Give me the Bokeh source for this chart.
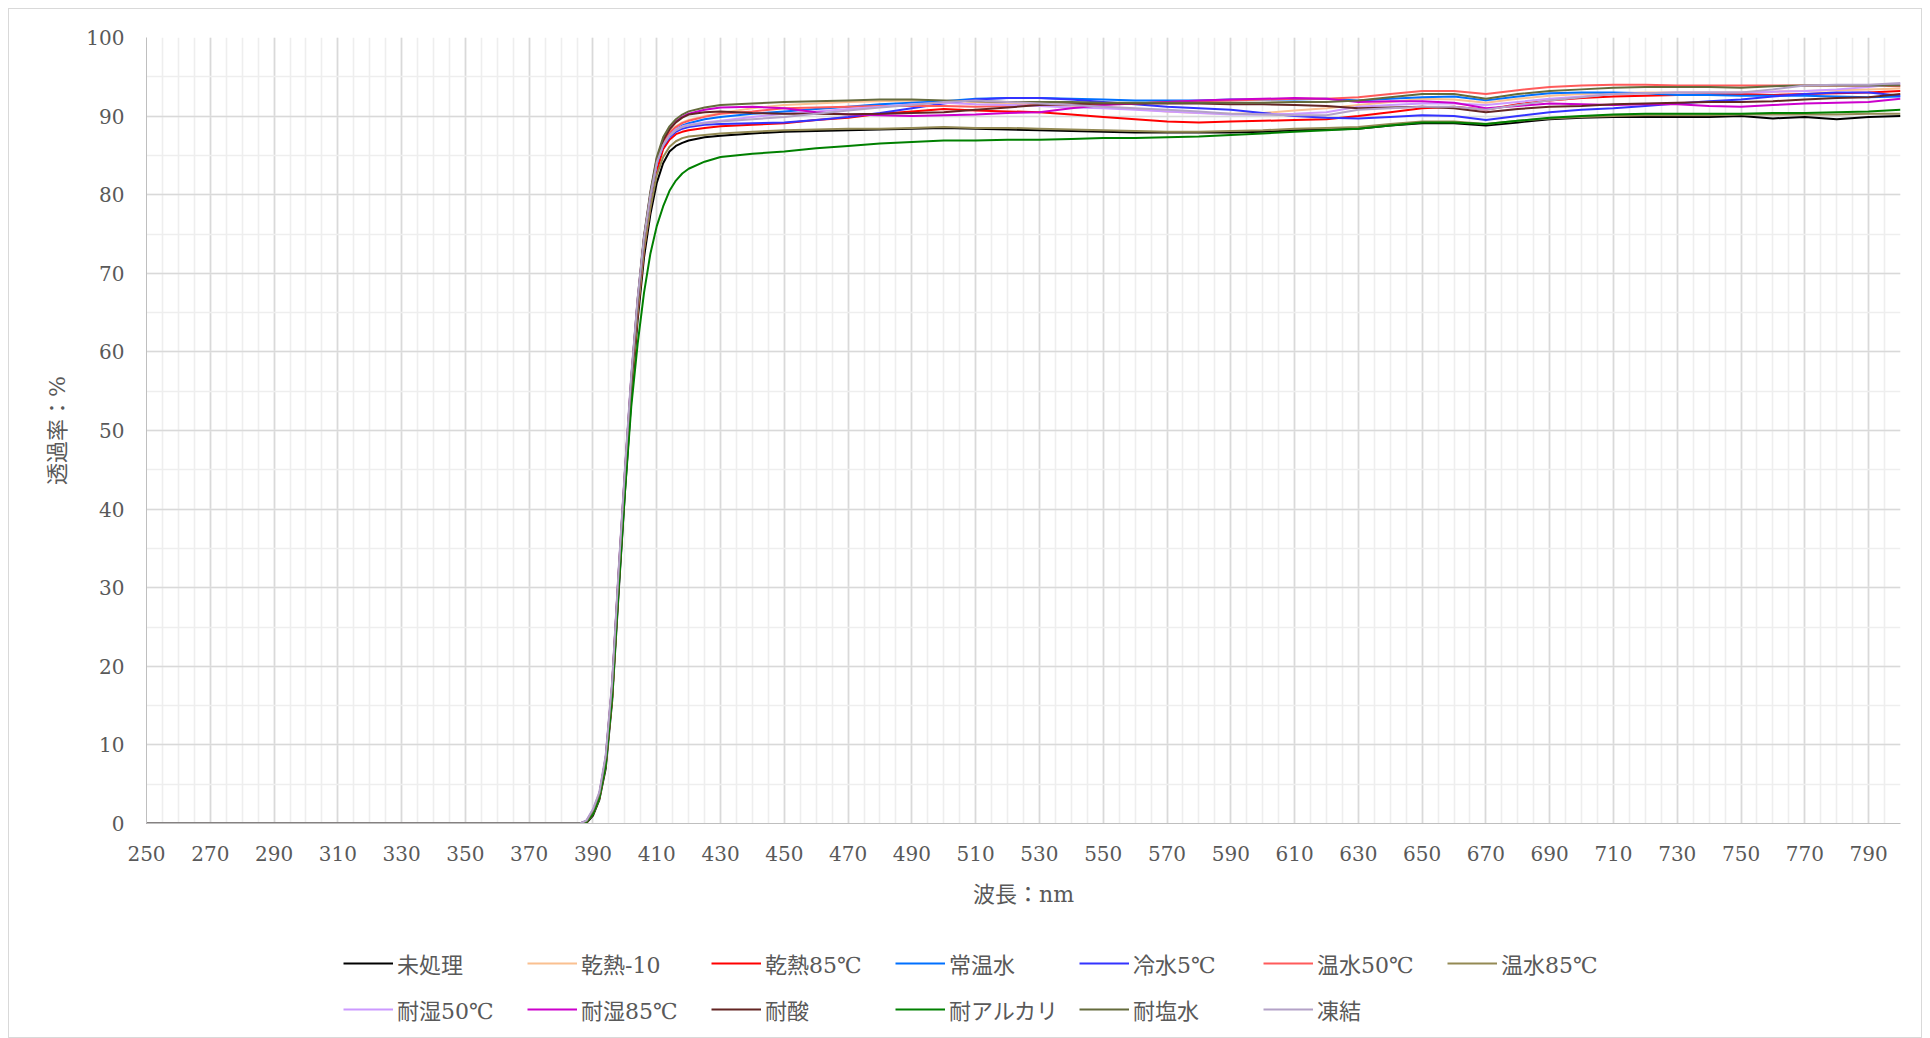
from bokeh.plotting import figure
from bokeh.models import Range1d, FixedTicker, Legend, LegendItem
from bokeh.layouts import column
from bokeh.embed import file_html
from bokeh.resources import INLINE

# ---------------- data ----------------
wavelength = [250, 380, 386, 388, 390, 392, 394, 396, 398, 400, 402, 404, 406, 408, 410,
              412, 414, 416, 418, 420, 425, 430,
              440, 450, 460, 470, 480, 490, 500, 510, 520, 530, 540, 550, 560, 570, 580, 590, 600,
              610, 620, 630, 640, 650, 660, 670, 680, 690, 700, 710, 720, 730, 740, 750, 760, 770, 780, 790, 800]

series_names = ["未処理", "乾熱-10", "乾熱85℃", "常温水", "冷水5℃", "温水50℃", "温水85℃",
                "耐湿50℃", "耐湿85℃", "耐酸", "耐アルカリ", "耐塩水", "凍結"]

untreated = [0, 0, 0, 0.1, 1.0, 3.0, 7.0, 15.5, 29, 42, 54, 64, 72, 77.5, 81.5,
             84.0, 85.5, 86.2, 86.6, 86.9, 87.3, 87.5,
             87.8, 88.0, 88.1, 88.2, 88.3, 88.4, 88.5, 88.4, 88.3, 88.2, 88.1, 88.0, 87.9, 87.9, 87.9, 87.9, 88.0,
             88.2, 88.3, 88.4, 88.8, 89.1, 89.1, 88.8, 89.2, 89.6, 89.8, 89.9, 89.9, 89.9, 89.9, 90.0, 89.7, 89.9, 89.6, 89.9, 90.0]
dry_heat_m10 = [0, 0, 0, 0.3, 1.6, 3.7, 8.3, 17.5, 31.5, 44.5, 56.5, 66.5, 74.5, 80, 84.3,
                86.6, 87.9, 88.7, 89.2, 89.5, 90.0, 90.4,
                91.0, 91.4, 91.6, 91.8, 91.9, 92.0, 91.9, 91.8, 91.6, 91.4, 91.3, 91.2, 90.9, 90.6, 90.4, 90.3, 90.4,
                90.7, 91.0, 91.4, 91.8, 92.2, 92.1, 91.7, 92.2, 92.6, 92.8, 92.9, 93.0, 93.0, 93.0, 93.0, 93.1, 93.2, 93.3, 93.4, 93.5]
dry_heat_85 = [0, 0, 0, 0.2, 1.2, 3.2, 7.5, 16, 30, 43, 55, 65, 73, 78.5, 83.0,
               85.8, 87.0, 87.7, 88.0, 88.2, 88.5, 88.7,
               88.9, 89.1, 89.5, 89.8, 90.3, 90.6, 90.9, 90.7, 90.6, 90.5, 90.2, 89.9, 89.6, 89.3, 89.2, 89.3, 89.4,
               89.5, 89.6, 90.0, 90.5, 91.0, 91.2, 90.8, 91.5, 92.0, 92.3, 92.5, 92.6, 92.7, 92.8, 92.8, 92.7, 92.8, 92.9, 93.0, 93.2]
room_water = [0, 0, 0, 0.3, 1.5, 3.5, 8, 17, 31, 44, 56, 66, 74, 79.5, 84,
              86.4, 87.6, 88.3, 88.8, 89.1, 89.6, 89.9,
              90.3, 90.6, 90.9, 91.2, 91.5, 91.7, 91.9, 92.2, 92.3, 92.3, 92.2, 92.1, 92.0, 92.0, 92.0, 92.1, 92.1,
              92.1, 92.2, 92.0, 92.2, 92.4, 92.5, 92.0, 92.5, 92.9, 93.0, 93.0, 92.9, 92.7, 92.7, 92.6, 92.6, 92.6, 92.5, 92.4, 92.5]
cold_water_5 = [0, 0, 0, 0.3, 1.5, 3.5, 8, 17, 31, 44, 56, 66, 74, 79.5, 84,
                86.2, 87.3, 88.0, 88.4, 88.6, 88.9, 89.0,
                89.1, 89.2, 89.5, 89.9, 90.4, 91.0, 91.6, 92.1, 92.3, 92.3, 92.1, 91.8, 91.5, 91.2, 91.0, 90.8, 90.4,
                90.0, 89.8, 89.7, 89.9, 90.1, 90.0, 89.5, 90.0, 90.5, 90.8, 91.0, 91.3, 91.6, 91.9, 92.1, 92.5, 92.8, 93.0, 93.0, 92.6]
warm_water_50 = [0, 0, 0, 0.3, 1.6, 3.6, 8.2, 17.3, 31.3, 44.3, 56.3, 66.3, 74.3, 79.8, 84.2,
                 86.6, 87.9, 88.6, 89.1, 89.4, 89.9, 90.3,
                 90.6, 91.0, 91.1, 91.2, 91.3, 91.3, 91.3, 91.2, 91.3, 91.4, 91.4, 91.5, 91.6, 91.8, 91.9, 92.0, 92.1,
                 92.2, 92.2, 92.4, 92.8, 93.2, 93.2, 92.8, 93.3, 93.7, 93.9, 94.0, 94.0, 93.9, 93.9, 93.9, 93.9, 93.9, 93.9, 93.9, 93.8]
warm_water_85 = [0, 0, 0, 0.2, 1.2, 3.2, 7.4, 16, 30, 43, 55, 65, 73, 78.3, 82.5,
                 84.8, 86.1, 86.8, 87.2, 87.4, 87.6, 87.8,
                 88.0, 88.2, 88.3, 88.4, 88.4, 88.5, 88.6, 88.5, 88.5, 88.4, 88.3, 88.2, 88.1, 88.0, 88.0, 88.1, 88.2,
                 88.4, 88.5, 88.6, 89.0, 89.3, 89.3, 89.0, 89.4, 89.7, 89.9, 90.0, 90.1, 90.1, 90.1, 90.2, 90.2, 90.2, 90.2, 90.3, 90.3]
humidity_50 = [0, 0, 0, 0.4, 1.8, 3.9, 8.6, 17.8, 31.8, 44.8, 56.8, 66.6, 74.4, 79.8, 84.1,
               86.3, 87.5, 88.3, 88.7, 88.9, 89.2, 89.4,
               89.9, 90.3, 90.6, 90.9, 91.2, 91.5, 91.7, 91.5, 91.4, 91.3, 91.1, 91.0, 90.8, 90.6, 90.4, 90.2, 90.2,
               90.3, 90.5, 91.2, 91.4, 91.6, 91.6, 91.4, 91.8, 92.2, 92.5, 92.8, 92.9, 93.0, 93.0, 93.0, 93.1, 93.2, 93.4, 93.7, 94.1]
humidity_85 = [0, 0, 0, 0.3, 1.6, 3.7, 8.3, 17.5, 31.5, 44.5, 56.5, 66.5, 74.6, 80.2, 84.6,
               87.0, 88.4, 89.3, 89.9, 90.3, 90.8, 91.1,
               91.2, 91.0, 90.5, 90.2, 90.1, 90.0, 90.1, 90.2, 90.4, 90.5, 91.0, 91.4, 91.6, 91.8, 92.0, 92.1, 92.2,
               92.3, 92.2, 91.8, 91.9, 91.9, 91.7, 91.0, 91.3, 91.6, 91.5, 91.4, 91.5, 91.5, 91.3, 91.2, 91.4, 91.6, 91.7, 91.8, 92.2]
acid = [0, 0, 0, 0.3, 1.5, 3.5, 8, 17, 31, 44, 56, 66.2, 74.4, 80, 84.4,
        86.9, 88.3, 89.2, 89.8, 90.2, 90.5, 90.6,
        90.4, 90.3, 90.3, 90.25, 90.3, 90.4, 90.5, 90.8, 91.1, 91.4, 91.5, 91.6, 91.6, 91.6, 91.6, 91.5, 91.5,
        91.4, 91.3, 91.0, 91.1, 91.2, 91.0, 90.5, 90.9, 91.2, 91.3, 91.5, 91.6, 91.7, 91.8, 91.8, 91.9, 92.1, 92.3, 92.4, 92.8]
alkali = [0, 0, 0, 0.2, 1.2, 3.2, 7.4, 16, 29.5, 42, 53, 61, 67.5, 72.5, 76,
          78.5, 80.5, 81.8, 82.7, 83.3, 84.2, 84.8,
          85.2, 85.5, 85.9, 86.2, 86.5, 86.7, 86.9, 86.9, 87.0, 87.0, 87.1, 87.2, 87.2, 87.3, 87.4, 87.6, 87.8,
          88.0, 88.2, 88.4, 88.8, 89.2, 89.2, 89.0, 89.4, 89.8, 90.0, 90.2, 90.3, 90.3, 90.3, 90.3, 90.4, 90.4, 90.5, 90.6, 90.8]
salt_water = [0, 0, 0, 0.3, 1.6, 3.7, 8.4, 17.6, 31.6, 44.6, 56.6, 66.7, 74.8, 80.4, 84.8,
              87.3, 88.7, 89.6, 90.2, 90.6, 91.1, 91.4,
              91.6, 91.8, 91.9, 92.0, 92.1, 92.1, 92.0, 91.9, 91.8, 91.8, 91.8, 91.7, 91.7, 91.7, 91.7, 91.7, 91.7,
              91.8, 91.8, 92.0, 92.4, 92.8, 92.8, 92.2, 92.8, 93.2, 93.4, 93.6, 93.7, 93.7, 93.7, 93.6, 93.8, 93.9, 93.9, 93.9, 93.9]
freeze = [0, 0, 0, 0.4, 1.8, 4.0, 8.7, 18, 32, 45, 57, 66.8, 74.5, 79.9, 84.1,
          86.3, 87.5, 88.2, 88.6, 88.8, 89.1, 89.3,
          89.6, 89.9, 90.3, 90.7, 91.1, 91.4, 91.8, 92.0, 91.8, 91.6, 91.4, 91.2, 91.0, 90.8, 90.6, 90.3, 90.2,
          90.1, 90.1, 90.8, 91.0, 91.2, 91.2, 90.8, 91.4, 92.0, 92.4, 92.8, 92.9, 93.0, 93.0, 93.0, 93.4, 93.9, 94.0, 94.0, 94.2]

series_values = [untreated, dry_heat_m10, dry_heat_85, room_water, cold_water_5, warm_water_50,
                 warm_water_85, humidity_50, humidity_85, acid, alkali, salt_water, freeze]

series_colors = ["#000000", "#FAC090", "#FF0000", "#0070FF", "#3333FF", "#FF5B5B", "#948A54",
                 "#CC99FF", "#CC00CC", "#632523", "#008000", "#646B3C", "#B3A2C7"]

x_ticks = [250, 270, 290, 310, 330, 350, 370, 390, 410, 430, 450, 470, 490, 510, 530,
           550, 570, 590, 610, 630, 650, 670, 690, 710, 730, 750, 770, 790]
x_minor = list(range(250, 805, 5))
y_ticks = [0, 10, 20, 30, 40, 50, 60, 70, 80, 90, 100]
y_minor = list(range(0, 105, 5))

x_title = "波長：nm"
y_title = "透過率：%"

for v in series_values:
    assert len(v) == len(wavelength), len(v)

# ---------------- main figure ----------------
TEXT = "#595959"
NUM_FONT = "DejaVu Serif, Noto Sans CJK JP"

p = figure(width=1912, height=914, output_backend="svg", toolbar_location=None,
           x_range=Range1d(250, 800), y_range=Range1d(0, 100),
           min_border_left=137, min_border_right=21, min_border_top=28, min_border_bottom=100)
p.outline_line_color = None
p.background_fill_color = "white"
p.border_fill_color = "white"

p.xaxis.ticker = FixedTicker(ticks=x_ticks, minor_ticks=x_minor)
p.yaxis.ticker = FixedTicker(ticks=y_ticks, minor_ticks=y_minor)

for ax in (p.xaxis[0], p.yaxis[0]):
    ax.major_tick_out = 0
    ax.major_tick_in = 0
    ax.minor_tick_out = 0
    ax.minor_tick_in = 0
    ax.axis_line_color = "#BFBFBF"
    ax.axis_line_width = 1
    ax.major_label_text_font = NUM_FONT
    ax.major_label_text_font_size = "20px"
    ax.major_label_text_color = TEXT
    ax.axis_label_text_font = NUM_FONT
    ax.axis_label_text_font_size = "22px"
    ax.axis_label_text_font_style = "normal"
    ax.axis_label_text_color = TEXT

p.xaxis.axis_label = x_title
p.yaxis.axis_label = y_title
p.xaxis.major_label_standoff = 22
p.xaxis.axis_label_standoff = 18
p.yaxis.major_label_standoff = 22
p.yaxis.axis_label_standoff = 13

for g in (p.xgrid[0], p.ygrid[0]):
    g.grid_line_color = "#D9D9D9"
    g.grid_line_width = 1.6
    g.minor_grid_line_color = "#EEEEEE"
    g.minor_grid_line_width = 1.6

for name, vals, col in zip(series_names, series_values, series_colors):
    p.line(wavelength, vals, line_color=col, line_width=2)

# ---------------- legend strip ----------------
pl = figure(width=1912, height=114, output_backend="svg", toolbar_location=None,
            x_range=Range1d(0, 1), y_range=Range1d(0, 1),
            min_border_left=0, min_border_right=0, min_border_top=0, min_border_bottom=0)
pl.axis.visible = False
pl.grid.visible = False
pl.outline_line_color = None
pl.background_fill_color = "white"
pl.border_fill_color = "white"

items = []
for name, vals, col in zip(series_names, series_values, series_colors):
    # same series, lying outside this strip's ranges: only its legend sample shows
    r = pl.line(wavelength, vals, line_color=col, line_width=2)
    items.append(LegendItem(label=name, renderers=[r]))

legend = Legend(items=items, orientation="horizontal", ncols=7,
                location=(197, 5),
                glyph_width=50, glyph_height=46, label_height=46, label_width=130,
                label_standoff=4, spacing=0, padding=0, margin=0,
                label_text_font=NUM_FONT, label_text_font_size="22px",
                label_text_color=TEXT,
                background_fill_alpha=0, border_line_color=None)
pl.add_layout(legend, "center")

layout = column(p, pl, spacing=0)
layout.styles = {"border": "1px solid #D9D9D9", "margin": "8px 8px 0px 8px"}

open("out.html", "w").write(file_html(layout, INLINE))
